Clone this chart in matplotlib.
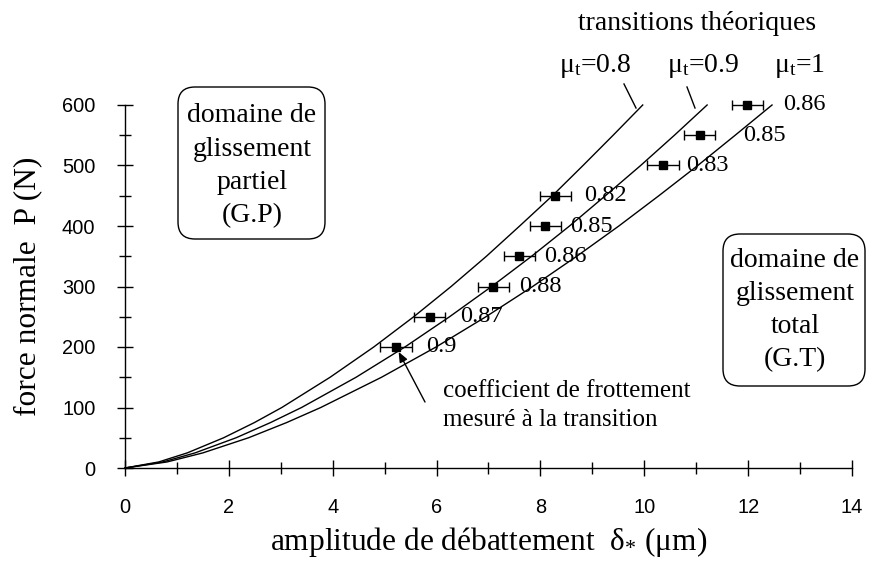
import matplotlib
matplotlib.use("Agg")
import matplotlib.pyplot as plt
from matplotlib.patches import FancyBboxPatch
from matplotlib.lines import Line2D
from matplotlib.ticker import MultipleLocator

plt.rcParams["font.family"] = ["Liberation Serif", "DejaVu Serif"]
plt.rcParams["mathtext.fontset"] = "custom"
plt.rcParams["mathtext.rm"] = "Liberation Serif"
plt.rcParams["mathtext.it"] = "Liberation Serif:italic"

# Theoretical partial/gross slip transition curves (normal force vs amplitude)
curve_P = [0, 10, 25, 50, 75, 100, 150, 200, 250, 300, 350, 400, 450, 500, 550, 600]
delta_mu08 = [0, 0.65, 1.20, 1.90, 2.49, 3.02, 3.95, 4.79, 5.56, 6.28, 6.96, 7.60, 8.23, 8.82, 9.40, 9.97]
delta_mu09 = [0, 0.73, 1.35, 2.14, 2.80, 3.40, 4.45, 5.39, 6.25, 7.06, 7.83, 8.56, 9.25, 9.93, 10.58, 11.21]
delta_mu10 = [0, 0.81, 1.50, 2.38, 3.11, 3.77, 4.94, 5.99, 6.95, 7.85, 8.70, 9.51, 10.28, 11.03, 11.75, 12.46]
curve_names = ["μ$_{\\mathrm{t}}$=0.8", "μ$_{\\mathrm{t}}$=0.9", "μ$_{\\mathrm{t}}$=1"]

# Measured transitions with friction coefficient at the transition
meas_delta = [5.22, 5.87, 7.09, 7.59, 8.09, 8.29, 10.36, 11.07, 11.98]
meas_P = [200, 250, 300, 350, 400, 450, 500, 550, 600]
meas_err = [0.3, 0.3, 0.3, 0.3, 0.3, 0.3, 0.3, 0.3, 0.3]
meas_mu = ["0.9", "0.87", "0.88", "0.86", "0.85", "0.82", "0.83", "0.85", "0.86"]

x_ticks = [0, 2, 4, 6, 8, 10, 12, 14]
y_ticks = [0, 100, 200, 300, 400, 500, 600]

W, H = 869, 561
fig = plt.figure(figsize=(W / 100, H / 100), dpi=100)
ax = fig.add_axes([125 / W, 1 - 468 / H, 727 / W, 363 / H])


def px(x, y):
    """pixel position (origin top-left) -> inches for dpi_scale_trans"""
    return x / 100, (H - y) / 100


pt = fig.dpi_scale_trans

for d in (delta_mu08, delta_mu09, delta_mu10):
    ax.plot(d, curve_P, color="black", lw=1.0, clip_on=False)

ax.errorbar(meas_delta, meas_P, xerr=meas_err, fmt="s", color="black",
            ms=5.5, elinewidth=1.0, capsize=3.6, capthick=1.0, clip_on=False)

label_dx = [30, 30, 26, 25, 25, 29, 23, 43, 36]
for xv, yv, lab, dx in zip(meas_delta, meas_P, meas_mu, label_dx):
    ax.annotate(lab, (xv, yv), xytext=(dx * 0.72, 0), textcoords="offset points",
                ha="left", va="center", fontsize=17.6)

ax.set_xlim(0, 14)
ax.set_ylim(0, 600)
ax.set_xticks(x_ticks)
ax.set_yticks(y_ticks)
ax.xaxis.set_minor_locator(MultipleLocator(1))
ax.yaxis.set_minor_locator(MultipleLocator(50))
ax.tick_params(which="major", direction="inout", length=11.5, width=1.0,
               pad=15.5, labelsize=14.4, labelfontfamily="Liberation Sans")
ax.tick_params(which="minor", direction="inout", length=8.6, width=1.0)
for s in ("top", "right"):
    ax.spines[s].set_visible(False)
for s in ("left", "bottom"):
    ax.spines[s].set_linewidth(1.0)

ax.set_xlabel("amplitude de débattement  δ$_{*}$ (μm)", fontsize=22.6, labelpad=6)
ax.set_ylabel("force normale  P (N)", fontsize=22.6, labelpad=14)

# curve captions and leader lines
fig.text(*px(697, 30), "transitions théoriques", transform=pt, ha="center",
         va="baseline", fontsize=20)
for name, xc in zip(curve_names, [595, 703, 800]):
    fig.text(*px(xc, 72), name, transform=pt, ha="center", va="baseline", fontsize=20)
for (x0, y0), (x1, y1) in [((624, 84), (636, 108)), ((687, 87), (695, 108))]:
    a, b = px(x0, y0)
    c, d = px(x1, y1)
    fig.add_artist(Line2D([a, c], [b, d], transform=pt, color="black", lw=1.0))

# slip regime boxes
def region_box(x0, y0, x1, y1, lines, xc, baselines):
    a, b = px(x0, y1)
    c, d = px(x1, y0)
    fig.add_artist(FancyBboxPatch((a, b), c - a, d - b,
                                  boxstyle="round,pad=0,rounding_size=0.17",
                                  transform=pt, fc="white", ec="black", lw=1.0))
    for line, yb in zip(lines, baselines):
        fig.text(*px(xc, yb), line, transform=pt, ha="center", va="baseline", fontsize=20)


region_box(178, 87, 325, 239, ["domaine de", "glissement", "partiel", "(G.P)"],
           252, [122, 156, 189, 222])
region_box(723, 234, 865, 386, ["domaine de", "glissement", "total", "(G.T)"],
           795, [267, 300, 333, 366])

# arrow to the first measured point
ax.annotate("", xy=(meas_delta[0], meas_P[0]), xycoords="data",
            xytext=px(425, 402), textcoords=pt,
            arrowprops=dict(arrowstyle="-|>,head_length=0.6,head_width=0.25",
                            color="black", lw=1.0, shrinkA=0, shrinkB=4))
fig.text(*px(443, 397), "coefficient de frottement", transform=pt, ha="left",
         va="baseline", fontsize=18)
fig.text(*px(443, 426), "mesuré à la transition", transform=pt, ha="left",
         va="baseline", fontsize=18)

fig.savefig("out.png", dpi=100)
